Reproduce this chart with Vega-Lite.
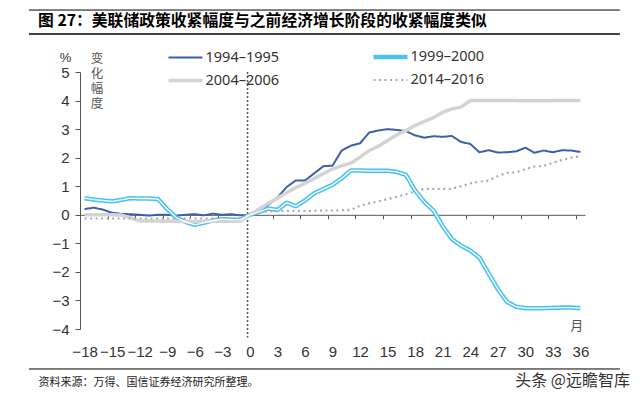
{
"$schema": "https://vega.github.io/schema/vega-lite/v6.json",
"width": 505, "height": 257,
"autosize": {"type": "none"},
"padding": {"left": 80, "top": 72, "right": 55, "bottom": 67},
"background": "white",
"title": {"text": "图 27：美联储政策收紧幅度与之前经济增长阶段的收紧幅度类似", "anchor": "start", "frame": "group", "dx": -42, "dy": 17, "offset": -10, "font": "Noto Sans CJK SC", "fontSize": 15.8, "fontWeight": "bold", "color": "#000", "baseline": "middle"},
"config": {"view": {"stroke": null}, "legend": {"labelFont": "Noto Sans", "labelFontSize": 14.5, "labelColor": "#333", "padding": 0}},
"data": {"values": [
{"m":-18,"s":"1994–1995","v":0.2},{"m":-17,"s":"1994–1995","v":0.25},{"m":-16,"s":"1994–1995","v":0.18},{"m":-15,"s":"1994–1995","v":0.07},{"m":-14,"s":"1994–1995","v":0.03},{"m":-13,"s":"1994–1995","v":0.02},{"m":-12,"s":"1994–1995","v":0.0},{"m":-11,"s":"1994–1995","v":-0.03},{"m":-10,"s":"1994–1995","v":0.0},{"m":-9,"s":"1994–1995","v":0.0},{"m":-8,"s":"1994–1995","v":-0.03},{"m":-7,"s":"1994–1995","v":0.0},{"m":-6,"s":"1994–1995","v":0.02},{"m":-5,"s":"1994–1995","v":-0.02},{"m":-4,"s":"1994–1995","v":0.04},{"m":-3,"s":"1994–1995","v":0.0},{"m":-2,"s":"1994–1995","v":0.02},{"m":-1,"s":"1994–1995","v":-0.02},{"m":0,"s":"1994–1995","v":0.0},
{"m":1,"s":"1994–1995","v":0.15},{"m":2,"s":"1994–1995","v":0.35},{"m":3,"s":"1994–1995","v":0.6},{"m":4,"s":"1994–1995","v":0.97},{"m":5,"s":"1994–1995","v":1.2},{"m":6,"s":"1994–1995","v":1.2},{"m":7,"s":"1994–1995","v":1.45},{"m":8,"s":"1994–1995","v":1.7},{"m":9,"s":"1994–1995","v":1.72},{"m":10,"s":"1994–1995","v":2.25},{"m":11,"s":"1994–1995","v":2.42},{"m":12,"s":"1994–1995","v":2.5},{"m":13,"s":"1994–1995","v":2.88},{"m":14,"s":"1994–1995","v":2.95},{"m":15,"s":"1994–1995","v":3.0},{"m":16,"s":"1994–1995","v":2.97},{"m":17,"s":"1994–1995","v":2.93},{"m":18,"s":"1994–1995","v":2.78},{"m":19,"s":"1994–1995","v":2.7},{"m":20,"s":"1994–1995","v":2.75},{"m":21,"s":"1994–1995","v":2.73},{"m":22,"s":"1994–1995","v":2.76},{"m":23,"s":"1994–1995","v":2.55},{"m":24,"s":"1994–1995","v":2.48},{"m":25,"s":"1994–1995","v":2.19},{"m":26,"s":"1994–1995","v":2.26},{"m":27,"s":"1994–1995","v":2.18},{"m":28,"s":"1994–1995","v":2.19},{"m":29,"s":"1994–1995","v":2.22},{"m":30,"s":"1994–1995","v":2.35},{"m":31,"s":"1994–1995","v":2.17},{"m":32,"s":"1994–1995","v":2.25},{"m":33,"s":"1994–1995","v":2.19},{"m":34,"s":"1994–1995","v":2.26},{"m":35,"s":"1994–1995","v":2.25},{"m":36,"s":"1994–1995","v":2.2},
{"m":-18,"s":"1999–2000","v":0.58},{"m":-17,"s":"1999–2000","v":0.53},{"m":-16,"s":"1999–2000","v":0.5},{"m":-15,"s":"1999–2000","v":0.47},{"m":-14,"s":"1999–2000","v":0.52},{"m":-13,"s":"1999–2000","v":0.58},{"m":-12,"s":"1999–2000","v":0.57},{"m":-11,"s":"1999–2000","v":0.57},{"m":-10,"s":"1999–2000","v":0.55},{"m":-9,"s":"1999–2000","v":0.2},{"m":-8,"s":"1999–2000","v":-0.1},{"m":-7,"s":"1999–2000","v":-0.25},{"m":-6,"s":"1999–2000","v":-0.35},{"m":-5,"s":"1999–2000","v":-0.28},{"m":-4,"s":"1999–2000","v":-0.2},{"m":-3,"s":"1999–2000","v":-0.15},{"m":-2,"s":"1999–2000","v":-0.17},{"m":-1,"s":"1999–2000","v":-0.17},{"m":0,"s":"1999–2000","v":0.0},
{"m":1,"s":"1999–2000","v":0.1},{"m":2,"s":"1999–2000","v":0.22},{"m":3,"s":"1999–2000","v":0.17},{"m":4,"s":"1999–2000","v":0.42},{"m":5,"s":"1999–2000","v":0.3},{"m":6,"s":"1999–2000","v":0.5},{"m":7,"s":"1999–2000","v":0.75},{"m":8,"s":"1999–2000","v":0.9},{"m":9,"s":"1999–2000","v":1.05},{"m":10,"s":"1999–2000","v":1.28},{"m":11,"s":"1999–2000","v":1.55},{"m":12,"s":"1999–2000","v":1.55},{"m":13,"s":"1999–2000","v":1.54},{"m":14,"s":"1999–2000","v":1.54},{"m":15,"s":"1999–2000","v":1.54},{"m":16,"s":"1999–2000","v":1.5},{"m":17,"s":"1999–2000","v":1.4},{"m":18,"s":"1999–2000","v":0.85},{"m":19,"s":"1999–2000","v":0.45},{"m":20,"s":"1999–2000","v":0.15},{"m":21,"s":"1999–2000","v":-0.4},{"m":22,"s":"1999–2000","v":-0.85},{"m":23,"s":"1999–2000","v":-1.08},{"m":24,"s":"1999–2000","v":-1.25},{"m":25,"s":"1999–2000","v":-1.5},{"m":26,"s":"1999–2000","v":-2.05},{"m":27,"s":"1999–2000","v":-2.6},{"m":28,"s":"1999–2000","v":-3.05},{"m":29,"s":"1999–2000","v":-3.22},{"m":30,"s":"1999–2000","v":-3.27},{"m":31,"s":"1999–2000","v":-3.27},{"m":32,"s":"1999–2000","v":-3.27},{"m":33,"s":"1999–2000","v":-3.26},{"m":34,"s":"1999–2000","v":-3.25},{"m":35,"s":"1999–2000","v":-3.25},{"m":36,"s":"1999–2000","v":-3.27},
{"m":-18,"s":"2004–2006","v":0.0},{"m":-17,"s":"2004–2006","v":0.0},{"m":-16,"s":"2004–2006","v":0.0},{"m":-15,"s":"2004–2006","v":0.0},{"m":-14,"s":"2004–2006","v":-0.01},{"m":-13,"s":"2004–2006","v":-0.1},{"m":-12,"s":"2004–2006","v":-0.22},{"m":-11,"s":"2004–2006","v":-0.22},{"m":-10,"s":"2004–2006","v":-0.22},{"m":-9,"s":"2004–2006","v":-0.23},{"m":-8,"s":"2004–2006","v":-0.23},{"m":-7,"s":"2004–2006","v":-0.24},{"m":-6,"s":"2004–2006","v":-0.24},{"m":-5,"s":"2004–2006","v":-0.23},{"m":-4,"s":"2004–2006","v":-0.23},{"m":-3,"s":"2004–2006","v":-0.23},{"m":-2,"s":"2004–2006","v":-0.23},{"m":-1,"s":"2004–2006","v":-0.22},{"m":0,"s":"2004–2006","v":0.0},
{"m":1,"s":"2004–2006","v":0.2},{"m":2,"s":"2004–2006","v":0.4},{"m":3,"s":"2004–2006","v":0.58},{"m":4,"s":"2004–2006","v":0.77},{"m":5,"s":"2004–2006","v":0.95},{"m":6,"s":"2004–2006","v":1.1},{"m":7,"s":"2004–2006","v":1.27},{"m":8,"s":"2004–2006","v":1.44},{"m":9,"s":"2004–2006","v":1.6},{"m":10,"s":"2004–2006","v":1.72},{"m":11,"s":"2004–2006","v":1.81},{"m":12,"s":"2004–2006","v":2.02},{"m":13,"s":"2004–2006","v":2.25},{"m":14,"s":"2004–2006","v":2.4},{"m":15,"s":"2004–2006","v":2.6},{"m":16,"s":"2004–2006","v":2.8},{"m":17,"s":"2004–2006","v":2.95},{"m":18,"s":"2004–2006","v":3.13},{"m":19,"s":"2004–2006","v":3.27},{"m":20,"s":"2004–2006","v":3.4},{"m":21,"s":"2004–2006","v":3.59},{"m":22,"s":"2004–2006","v":3.71},{"m":23,"s":"2004–2006","v":3.77},{"m":24,"s":"2004–2006","v":4.0},{"m":25,"s":"2004–2006","v":4.0},{"m":26,"s":"2004–2006","v":4.0},{"m":27,"s":"2004–2006","v":4.0},{"m":28,"s":"2004–2006","v":4.0},{"m":29,"s":"2004–2006","v":4.0},{"m":30,"s":"2004–2006","v":3.99},{"m":31,"s":"2004–2006","v":3.99},{"m":32,"s":"2004–2006","v":3.99},{"m":33,"s":"2004–2006","v":4.0},{"m":34,"s":"2004–2006","v":4.0},{"m":35,"s":"2004–2006","v":4.0},{"m":36,"s":"2004–2006","v":4.0},
{"m":-18,"s":"2014–2016","v":-0.13},{"m":-17,"s":"2014–2016","v":-0.13},{"m":-16,"s":"2014–2016","v":-0.13},{"m":-15,"s":"2014–2016","v":-0.13},{"m":-14,"s":"2014–2016","v":-0.13},{"m":-13,"s":"2014–2016","v":-0.13},{"m":-12,"s":"2014–2016","v":-0.13},{"m":-11,"s":"2014–2016","v":-0.13},{"m":-10,"s":"2014–2016","v":-0.13},{"m":-9,"s":"2014–2016","v":-0.13},{"m":-8,"s":"2014–2016","v":-0.13},{"m":-7,"s":"2014–2016","v":-0.13},{"m":-6,"s":"2014–2016","v":-0.13},{"m":-5,"s":"2014–2016","v":-0.13},{"m":-4,"s":"2014–2016","v":-0.13},{"m":-3,"s":"2014–2016","v":-0.13},{"m":-2,"s":"2014–2016","v":-0.13},{"m":-1,"s":"2014–2016","v":-0.13},{"m":0,"s":"2014–2016","v":0.0},
{"m":1,"s":"2014–2016","v":0.1},{"m":2,"s":"2014–2016","v":0.12},{"m":3,"s":"2014–2016","v":0.13},{"m":4,"s":"2014–2016","v":0.14},{"m":5,"s":"2014–2016","v":0.14},{"m":6,"s":"2014–2016","v":0.14},{"m":7,"s":"2014–2016","v":0.14},{"m":8,"s":"2014–2016","v":0.15},{"m":9,"s":"2014–2016","v":0.15},{"m":10,"s":"2014–2016","v":0.16},{"m":11,"s":"2014–2016","v":0.17},{"m":12,"s":"2014–2016","v":0.32},{"m":13,"s":"2014–2016","v":0.4},{"m":14,"s":"2014–2016","v":0.47},{"m":15,"s":"2014–2016","v":0.55},{"m":16,"s":"2014–2016","v":0.63},{"m":17,"s":"2014–2016","v":0.72},{"m":18,"s":"2014–2016","v":0.82},{"m":19,"s":"2014–2016","v":0.91},{"m":20,"s":"2014–2016","v":0.91},{"m":21,"s":"2014–2016","v":0.91},{"m":22,"s":"2014–2016","v":0.91},{"m":23,"s":"2014–2016","v":1.0},{"m":24,"s":"2014–2016","v":1.1},{"m":25,"s":"2014–2016","v":1.16},{"m":26,"s":"2014–2016","v":1.2},{"m":27,"s":"2014–2016","v":1.35},{"m":28,"s":"2014–2016","v":1.47},{"m":29,"s":"2014–2016","v":1.49},{"m":30,"s":"2014–2016","v":1.6},{"m":31,"s":"2014–2016","v":1.69},{"m":32,"s":"2014–2016","v":1.71},{"m":33,"s":"2014–2016","v":1.82},{"m":34,"s":"2014–2016","v":1.92},{"m":35,"s":"2014–2016","v":2.0},{"m":36,"s":"2014–2016","v":2.05}
]},
"layer": [
{"mark": {"type": "rule", "color": "#555", "strokeWidth": 1.5, "strokeDash": [2, 2]},
 "data": {"values": [{}]},
 "encoding": {"x": {"datum": -0.25, "type": "quantitative", "axis": null}, "y": {"datum": 5, "type": "quantitative"}, "y2": {"datum": -4.3}}},
{"mark": {"type": "line", "strokeJoin": "round"},
 "encoding": {
  "x": {"field": "m", "type": "quantitative", "scale": {"domain": [-18.5, 36.5], "nice": false, "zero": false},
   "axis": {"orient": "bottom", "values": [-18,-15,-12,-9,-6,-3,0,3,6,9,12,15,18,21,24,27,30,33,36], "tickCount": 60, "format": "d", "domain": false, "ticks": false, "tickSize": 0, "grid": false, "labelPadding": 15, "labelFont": "Liberation Sans", "labelFontSize": 15, "labelColor": "#333", "labelFlush": false, "labelOverlap": false,
    "title": "资料来源：万得、国信证券经济研究所整理。", "titleX": -42, "titleY": 53, "titleAlign": "left", "titleAnchor": "start", "titleBaseline": "middle", "titleFont": "Noto Sans CJK SC", "titleFontSize": 11, "titleFontWeight": "normal", "titleColor": "#222"}},
  "y": {"field": "v", "type": "quantitative", "scale": {"domain": [-4, 5], "nice": false, "zero": false},
   "axis": {"values": [-4,-3,-2,-1,0,1,2,3,4,5], "tickCount": 20, "format": "d", "grid": false, "domainColor": "#555", "tickColor": "#555", "tickSize": 5, "labelPadding": 6, "labelFont": "Liberation Sans", "labelFontSize": 15, "labelColor": "#333", "labelOverlap": false, "labelFlush": false,
    "title": "%", "titleAngle": 0, "titleX": -15, "titleY": -15, "titleAlign": "center", "titleBaseline": "middle", "titleFont": "Liberation Sans", "titleFontSize": 13, "titleFontWeight": "normal", "titleColor": "#333"}},
  "color": {"field": "s", "type": "nominal", "scale": {"domain": ["1994–1995", "1999–2000", "2004–2006", "2014–2016"], "range": ["#3f5fad", "#4cc3ef", "#d3d3d3", "#a5aab8"]},
   "legend": {"title": null, "orient": "none", "legendX": 86, "legendY": -26, "direction": "horizontal", "columns": 2, "symbolType": "M-2,0H2", "symbolSize": 289, "symbolOffset": 8.5, "labelOffset": 9, "columnPadding": 84, "rowPadding": 4, "labelFontSize": 14.5}},
  "strokeDash": {"field": "s", "type": "nominal", "scale": {"domain": ["1994–1995", "1999–2000", "2004–2006", "2014–2016"], "range": [[1, 0], [1, 0], [1, 0], [2, 3.5]]},
   "legend": {"title": null, "orient": "none", "legendX": 86, "legendY": -26, "direction": "horizontal", "columns": 2, "symbolType": "M-2,0H2", "symbolSize": 289, "symbolOffset": 8.5, "labelOffset": 9, "columnPadding": 84, "rowPadding": 4, "labelFontSize": 14.5}},
  "strokeWidth": {"field": "s", "type": "nominal", "scale": {"type": "ordinal", "domain": ["1994–1995", "1999–2000", "2004–2006", "2014–2016"], "range": [2, 4.5, 3.5, 2.2]},
   "legend": {"title": null, "orient": "none", "legendX": 86, "legendY": -26, "direction": "horizontal", "columns": 2, "symbolType": "M-2,0H2", "symbolSize": 289, "symbolOffset": 8.5, "labelOffset": 9, "columnPadding": 84, "rowPadding": 4, "labelFontSize": 14.5}}
 }},
{"transform": [{"filter": "datum.s === '1999–2000'"}],
 "mark": {"type": "line", "color": "white", "strokeWidth": 1.3, "strokeJoin": "round"},
 "encoding": {
  "x": {"field": "m", "type": "quantitative",
   "axis": {"orient": "bottom", "offset": -114.2, "values": [-15.5,-12.5,-9.5,-6.5,-3.5,-0.5,2.5,5.5,8.5,11.5,14.5,17.5,20.5,23.5,26.5,29.5,32.5,35.5], "tickCount": 60, "labels": false, "ticks": true, "tickSize": 4, "tickColor": "#555", "domain": true, "domainColor": "#555", "grid": false, "title": null}},
  "y": {"field": "v", "type": "quantitative"}
 }},
{"mark": {"type": "text", "font": "Noto Sans CJK SC", "fontSize": 12.5, "color": "#555", "baseline": "top", "align": "center", "lineBreak": "\n", "lineHeight": 15},
 "data": {"values": [{}]},
 "encoding": {"x": {"datum": -16.65, "type": "quantitative", "axis": null}, "y": {"datum": 5.67, "type": "quantitative"}, "text": {"value": "变\n化\n幅\n度"}}},
{"mark": {"type": "text", "font": "Noto Sans CJK SC", "fontSize": 13, "color": "#555", "baseline": "middle", "align": "center"},
 "data": {"values": [{}]},
 "encoding": {"x": {"datum": 35.6, "type": "quantitative", "axis": null}, "y": {"datum": -3.89, "type": "quantitative"}, "text": {"value": "月"}}},
{"mark": {"type": "text", "font": "Noto Sans CJK SC", "fontSize": 16, "color": "#333", "baseline": "middle", "align": "right"},
 "data": {"values": [{}]},
 "encoding": {"x": {"datum": 41.4, "type": "quantitative", "axis": null}, "y": {"datum": -5.82, "type": "quantitative"}, "text": {"value": "头条 @远瞻智库"}}},
{"mark": {"type": "rule", "color": "#000", "strokeWidth": 1},
 "data": {"values": [{}]},
 "encoding": {"x": {"datum": -24.06, "type": "quantitative", "axis": null}, "x2": {"datum": 40.3}, "y": {"datum": 7.17, "type": "quantitative"}}},
{"mark": {"type": "rule", "color": "#000", "strokeWidth": 1.5},
 "data": {"values": [{}]},
 "encoding": {"x": {"datum": -24.06, "type": "quantitative", "axis": null}, "x2": {"datum": 40.3}, "y": {"datum": 6.33, "type": "quantitative"}}},
{"mark": {"type": "rule", "color": "#000", "strokeWidth": 1},
 "data": {"values": [{}]},
 "encoding": {"x": {"datum": -24.06, "type": "quantitative", "axis": null}, "x2": {"datum": 40.3}, "y": {"datum": -5.4, "type": "quantitative"}}}
],
"resolve": {"axis": {"x": "independent"}}
}
